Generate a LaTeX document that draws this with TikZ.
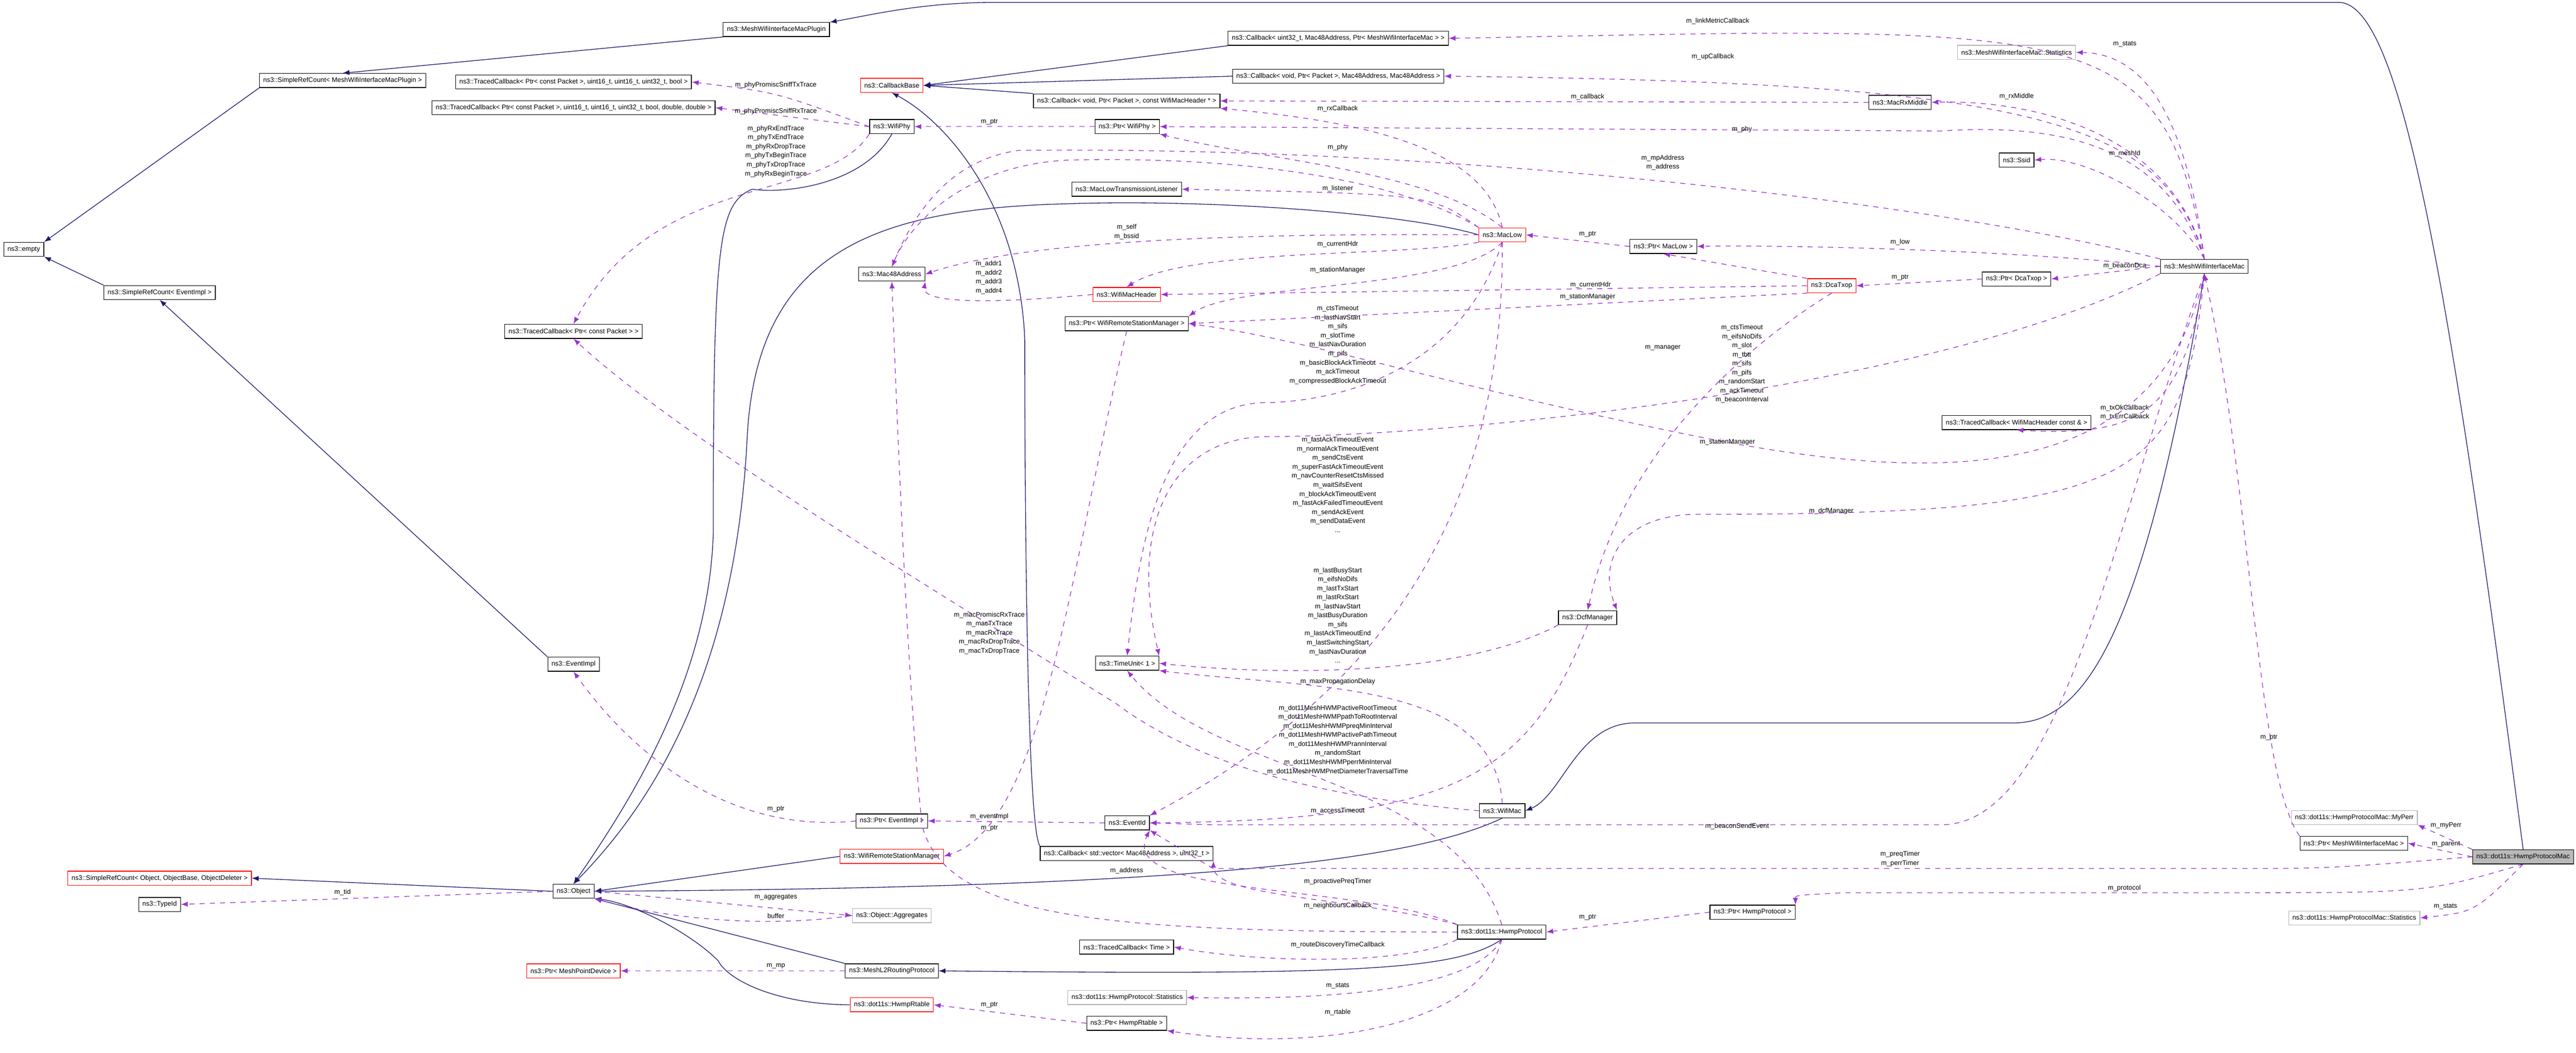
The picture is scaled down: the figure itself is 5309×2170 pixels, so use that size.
\documentclass[tikz,border=0pt]{standalone}
\usepackage{fontspec}
\setmainfont{Liberation Sans}
\usetikzlibrary{arrows}
\definecolor{inhcol}{HTML}{191970}
\definecolor{usecol}{HTML}{9A32CD}
\tikzset{
  cls/.style={draw=black,fill=white,font=\fontsize{3.9}{5.3}\selectfont,inner xsep=2.2pt,inner ysep=1pt,minimum height=0.29cm},
  redcls/.style={cls,draw=red},
  graycls/.style={cls,draw=gray!60},
  curcls/.style={cls,fill=gray!55},
  inh/.style={->,>=latex,draw=inhcol,thin},
  use/.style={->,>=latex,draw=usecol,dashed,thin},
  lbl/.style={font=\fontsize{3.9}{5.3}\selectfont,align=center,inner sep=0.5pt}
}
\begin{document}
\begin{tikzpicture}[x=0.01cm,y=-0.01cm]
  \useasboundingbox (0,0) rectangle (5309,2170);

  % classes
  \node[cls]     (plug)   at (1600,61)   {ns3::MeshWifiInterfaceMacPlugin};
  \node[cls]     (srcplug) at (706,166)  {ns3::SimpleRefCount< MeshWifiInterfaceMacPlugin >};
  \node[cls]     (tcbool) at (1182,169)  {ns3::TracedCallback< Ptr< const Packet >, uint16\_t, uint16\_t, uint32\_t, bool >};
  \node[cls]     (tcdbl)  at (1182,222)  {ns3::TracedCallback< Ptr< const Packet >, uint16\_t, uint16\_t, uint32\_t, bool, double, double >};
  \node[cls]     (empty)  at (49,514)    {ns3::empty};
  \node[cls]     (srcev)  at (329,603)   {ns3::SimpleRefCount< EventImpl >};
  \node[cls]     (tcpkt)  at (1182,683)  {ns3::TracedCallback< Ptr< const Packet > >};
  \node[redcls]  (cbase)  at (1838,176)  {ns3::CallbackBase};
  \node[cls]     (cbmet)  at (2758,79)   {ns3::Callback< uint32\_t, Mac48Address, Ptr< MeshWifiInterfaceMac > >};
  \node[cls]     (cbup)   at (2758,157)  {ns3::Callback< void, Ptr< Packet >, Mac48Address, Mac48Address >};
  \node[cls]     (cbrx)   at (2322,208)  {ns3::Callback< void, Ptr< Packet >, const WifiMacHeader * >};
  \node[cls]     (phy)    at (1838,261)  {ns3::WifiPhy};
  \node[cls]     (pphy)   at (2323,261)  {ns3::Ptr< WifiPhy >};
  \node[cls]     (lst)    at (2322,390)  {ns3::MacLowTransmissionListener};
  \node[redcls]  (low)    at (3096,484)  {ns3::MacLow};
  \node[cls]     (plow)   at (3428,508)  {ns3::Ptr< MacLow >};
  \node[cls]     (mac48)  at (1838,565)  {ns3::Mac48Address};
  \node[redcls]  (hdr)    at (2322,607)  {ns3::WifiMacHeader};
  \node[cls]     (pwrsm)  at (2322,667)  {ns3::Ptr< WifiRemoteStationManager >};
  \node[graycls] (mstat)  at (4156,108)  {ns3::MeshWifiInterfaceMac::Statistics};
  \node[cls]     (rxmid)  at (3916,211)  {ns3::MacRxMiddle};
  \node[cls]     (ssid)   at (4156,330)  {ns3::Ssid};
  \node[cls]     (mwim)   at (4543,549)  {ns3::MeshWifiInterfaceMac};
  \node[cls]     (pdca)   at (4156,575)  {ns3::Ptr< DcaTxop >};
  \node[redcls]  (dca)    at (3775,589)  {ns3::DcaTxop};
  \node[cls]     (tchdr)  at (4156,871)  {ns3::TracedCallback< WifiMacHeader const \& >};
  \node[cls]     (evimpl) at (1182,1369) {ns3::EventImpl};
  \node[redcls]  (srcobj) at (329,1810)  {ns3::SimpleRefCount< Object, ObjectBase, ObjectDeleter >};
  \node[cls]     (tid)    at (329,1864)  {ns3::TypeId};
  \node[cls]     (obj)    at (1182,1837) {ns3::Object};
  \node[redcls]  (pmpd)   at (1182,2001) {ns3::Ptr< MeshPointDevice >};
  \node[cls]     (pevi)   at (1838,1692) {ns3::Ptr< EventImpl >};
  \node[redcls]  (wrsm)   at (1838,1765) {ns3::WifiRemoteStationManager};
  \node[graycls] (aggr)   at (1838,1887) {ns3::Object::Aggregates};
  \node[cls]     (ml2)    at (1838,2001) {ns3::MeshL2RoutingProtocol};
  \node[redcls]  (rtab)   at (1838,2071) {ns3::dot11s::HwmpRtable};
  \node[cls]     (tu)     at (2323,1367) {ns3::TimeUnit< 1 >};
  \node[cls]     (evid)   at (2323,1696) {ns3::EventId};
  \node[cls]     (cbvec)  at (2322,1759) {ns3::Callback< std::vector< Mac48Address >, uint32\_t >};
  \node[cls]     (tctime) at (2322,1952) {ns3::TracedCallback< Time >};
  \node[graycls] (hstat)  at (2323,2056) {ns3::dot11s::HwmpProtocol::Statistics};
  \node[cls]     (prtab)  at (2322,2109) {ns3::Ptr< HwmpRtable >};
  \node[cls]     (dcf)    at (3272,1273) {ns3::DcfManager};
  \node[cls]     (wmac)   at (3096,1671) {ns3::WifiMac};
  \node[cls]     (hwmp)   at (3095,1921) {ns3::dot11s::HwmpProtocol};
  \node[cls]     (phwmp)  at (3612,1880) {ns3::Ptr< HwmpProtocol >};
  \node[graycls] (perr)   at (4852,1685) {ns3::dot11s::HwmpProtocolMac::MyPerr};
  \node[cls]     (pmwim)  at (4851,1738) {ns3::Ptr< MeshWifiInterfaceMac >};
  \node[curcls]  (hpm)    at (5200,1766) {ns3::dot11s::HwmpProtocolMac};
  \node[graycls] (pstat)  at (4852,1892) {ns3::dot11s::HwmpProtocolMac::Statistics};

  % inheritance
  \draw[inh] (hpm.north) .. controls (5050,600) and (4950,5) .. (4820,5) -- (2050,5) .. controls (1900,5) and (1800,30) .. (plug.north east);
  \draw[inh] (plug.south west) -- (srcplug.north);
  \draw[inh] (srcplug.south west) -- (empty.north east);
  \draw[inh] (srcev.north west) -- (empty.south east);
  \draw[inh] (evimpl.north west) -- (srcev.south);
  \draw[inh] (cbmet.south west) -- (cbase.east);
  \draw[inh] (cbup.west) -- (cbase.east);
  \draw[inh] (cbrx.north west) -- (cbase.east);
  \draw[inh] (cbvec.north west) .. controls (2112,1700) and (2112,800) .. (2112,700) .. controls (2100,420) and (1950,250) .. (cbase.south);
  \draw[inh] (phy.south) .. controls (1780,380) and (1620,400) .. (1550,390) .. controls (1480,420) and (1470,500) .. (1470,1100) .. controls (1460,1400) and (1300,1650) .. (obj.north);
  \draw[inh] (low.west) .. controls (2900,440) and (2500,410) .. (2200,420) .. controls (1800,430) and (1560,520) .. (1540,900) .. controls (1520,1300) and (1400,1600) .. (obj.north);
  \draw[inh] (wrsm.west) -- (obj.east);
  \draw[inh] (wmac.south) .. controls (2900,1780) and (2400,1830) .. (obj.east);
  \draw[inh] (ml2.north west) -- (obj.south east);
  \draw[inh] (rtab.west) .. controls (1600,2070) and (1500,2020) .. (1480,1980) .. controls (1420,1920) and (1300,1860) .. (obj.south east);
  \draw[inh] (obj.west) -- (srcobj.east);
  \draw[inh] (mwim.south) .. controls (4420,1300) and (4300,1490) .. (4150,1490) -- (3370,1490) .. controls (3250,1490) and (3220,1640) .. (wmac.east);
  \draw[inh] (hwmp.south) .. controls (3000,2000) and (2800,2010) .. (ml2.east);

  % usage
  \draw[use] (phy.west) .. controls (1600,190) .. (tcbool.east);
  \node[lbl] at (1599,175) {m\_phyPromiscSniffTxTrace};
  \draw[use] (phy.west) -- (tcdbl.east);
  \node[lbl] at (1599,229) {m\_phyPromiscSniffRxTrace};
  \draw[use] (phy.south west) .. controls (1700,420) and (1350,350) .. (tcpkt.north);
  \node[lbl] at (1599,312) {m\_phyRxEndTrace\\m\_phyTxEndTrace\\m\_phyRxDropTrace\\m\_phyTxBeginTrace\\m\_phyTxDropTrace\\m\_phyRxBeginTrace};
  \draw[use] (pphy.west) -- (phy.east);
  \node[lbl] at (2039,251) {m\_ptr};
  \draw[use] (low.north) .. controls (3060,300) and (2800,250) .. (cbrx.south east);
  \node[lbl] at (2757,224) {m\_rxCallback};
  \draw[use] (low.north) .. controls (2950,350) and (2600,330) .. (pphy.south east);
  \draw[use] (low.north west) .. controls (2900,380) and (2600,320) .. (2200,330) .. controls (2000,340) and (1880,450) .. (mac48.north);
  \node[lbl] at (2757,304) {m\_phy};
  \draw[use] (low.north west) .. controls (2950,400) .. (lst.east);
  \node[lbl] at (2757,389) {m\_listener};
  \draw[use] (low.west) .. controls (2500,480) and (2100,500) .. (mac48.east);
  \node[lbl] at (2322,478) {m\_self\\m\_bssid};
  \draw[use] (low.south west) .. controls (2900,530) and (2450,510) .. (hdr.north);
  \node[lbl] at (2757,503) {m\_currentHdr};
  \draw[use] (low.south) .. controls (3000,600) and (2550,580) .. (pwrsm.north east);
  \node[lbl] at (2757,557) {m\_stationManager};
  \draw[use] (low.south) .. controls (3000,800) and (2700,830) .. (2600,830) .. controls (2400,840) and (2350,1100) .. (tu.north);
  \node[lbl] at (2757,711) {m\_ctsTimeout\\m\_lastNavStart\\m\_sifs\\m\_slotTime\\m\_lastNavDuration\\m\_pifs\\m\_basicBlockAckTimeout\\m\_ackTimeout\\m\_compressedBlockAckTimeout};
  \draw[use] (low.south) .. controls (3100,1000) and (2900,1400) .. (evid.north east);
  \node[lbl] at (2757,999) {m\_fastAckTimeoutEvent\\m\_normalAckTimeoutEvent\\m\_sendCtsEvent\\m\_superFastAckTimeoutEvent\\m\_navCounterResetCtsMissed\\m\_waitSifsEvent\\m\_blockAckTimeoutEvent\\m\_fastAckFailedTimeoutEvent\\m\_sendAckEvent\\m\_sendDataEvent\\...};
  \draw[use] (hdr.west) .. controls (2000,630) and (1900,620) .. (mac48.south east);
  \node[lbl] at (2038,572) {m\_addr1\\m\_addr2\\m\_addr3\\m\_addr4};
  \draw[use] (plow.west) -- (low.east);
  \node[lbl] at (3272,483) {m\_ptr};
  \draw[use] (dca.west) -- (hdr.east);
  \node[lbl] at (3278,587) {m\_currentHdr};
  \draw[use] (dca.south west) -- (pwrsm.east);
  \node[lbl] at (3272,612) {m\_stationManager};
  \draw[use] (dca.north west) -- (plow.south);
  \draw[use] (dca.south) .. controls (3650,680) and (3350,900) .. (dcf.north);
  \node[lbl] at (3427,717) {m\_manager};
  \draw[use] (rxmid.west) -- (cbrx.east);
  \node[lbl] at (3272,200) {m\_callback};
  \draw[use] (mwim.north) .. controls (4460,30) and (4300,55) .. (cbmet.east);
  \node[lbl] at (3540,44) {m\_linkMetricCallback};
  \draw[use] (mwim.north) .. controls (4500,200) and (4400,110) .. (mstat.east);
  \node[lbl] at (4379,91) {m\_stats};
  \draw[use] (mwim.north) .. controls (4460,250) and (4200,170) .. (cbup.east);
  \node[lbl] at (3530,117) {m\_upCallback};
  \draw[use] (mwim.north) .. controls (4480,280) and (4200,205) .. (rxmid.east);
  \node[lbl] at (4156,199) {m\_rxMiddle};
  \draw[use] (mwim.north) .. controls (4470,330) and (4300,250) .. (4000,270) -- (pphy.east);
  \node[lbl] at (3590,267) {m\_phy};
  \draw[use] (mwim.north) .. controls (4480,420) and (4300,320) .. (ssid.east);
  \node[lbl] at (4379,317) {m\_meshId};
  \draw[use] (mwim.north west) .. controls (4000,420) and (3000,300) .. (2100,310) .. controls (1950,330) and (1880,450) .. (mac48.north);
  \node[lbl] at (3427,335) {m\_mpAddress\\m\_address};
  \draw[use] (mwim.west) .. controls (4100,510) and (3600,505) .. (plow.east);
  \node[lbl] at (3916,499) {m\_low};
  \draw[use] (mwim.west) -- (pdca.east);
  \node[lbl] at (4379,548) {m\_beaconDca};
  \draw[use] (pdca.west) -- (dca.east);
  \node[lbl] at (3916,572) {m\_ptr};
  \draw[use] (mwim.south west) .. controls (4000,800) and (3000,900) .. (2600,900) .. controls (2400,910) and (2330,1100) .. (tu.north east);
  \node[lbl] at (3590,750) {m\_ctsTimeout\\m\_eifsNoDifs\\m\_slot\\m\_tbtt\\m\_sifs\\m\_pifs\\m\_randomStart\\m\_ackTimeout\\m\_beaconInterval};
  \draw[use] (mwim.south) .. controls (4500,860) and (4400,900) .. (tchdr.south);
  \node[lbl] at (4379,850) {m\_txOkCallback\\m\_txErrCallback};
  \draw[use] (mwim.south) .. controls (4450,1000) and (4000,1000) .. (3500,900) .. controls (3000,800) and (2700,700) .. (pwrsm.east);
  \node[lbl] at (3560,911) {m\_stationManager};
  \draw[use] (mwim.south) .. controls (4500,1000) and (4400,1060) .. (3500,1060) .. controls (3350,1060) and (3290,1150) .. (dcf.north east);
  \node[lbl] at (3774,1053) {m\_dcfManager};
  \draw[use] (mwim.south) .. controls (4350,1100) and (4250,1700) .. (4000,1700) -- (2500,1700) -- (evid.east);
  \node[lbl] at (3580,1703) {m\_beaconSendEvent};
  \draw[use] (pwrsm.south) .. controls (2200,1200) and (2150,1700) .. (wrsm.east);
  \node[lbl] at (2039,1707) {m\_ptr};
  \draw[use] (pevi.west) .. controls (1500,1720) and (1300,1550) .. (evimpl.south);
  \node[lbl] at (1599,1668) {m\_ptr};
  \draw[use] (obj.west) -- (tid.east);
  \node[lbl] at (706,1839) {m\_tid};
  \draw[use] (obj.east) -- (aggr.west);
  \node[lbl] at (1599,1849) {m\_aggregates};
  \draw[use] (aggr.west) .. controls (1600,1910) and (1400,1900) .. (obj.south east);
  \node[lbl] at (1599,1888) {buffer};
  \draw[use] (ml2.west) -- (pmpd.east);
  \node[lbl] at (1599,1991) {m\_mp};
  \draw[use] (wmac.west) .. controls (2800,1650) and (2500,1600) .. (2300,1450) .. controls (1900,1200) and (1400,900) .. (tcpkt.south);
  \node[lbl] at (2039,1305) {m\_macPromiscRxTrace\\m\_macTxTrace\\m\_macRxTrace\\m\_macRxDropTrace\\m\_macTxDropTrace};
  \draw[use] (wmac.north) .. controls (3080,1400) and (2700,1420) .. (tu.south east);
  \node[lbl] at (2757,1405) {m\_maxPropagationDelay};
  \draw[use] (dcf.south west) .. controls (3000,1400) and (2600,1390) .. (tu.east);
  \node[lbl] at (2757,1268) {m\_lastBusyStart\\m\_eifsNoDifs\\m\_lastTxStart\\m\_lastRxStart\\m\_lastNavStart\\m\_lastBusyDuration\\m\_sifs\\m\_lastAckTimeoutEnd\\m\_lastSwitchingStart\\m\_lastNavDuration\\...};
  \draw[use] (dcf.south) .. controls (3150,1600) and (3000,1690) .. (evid.east);
  \node[lbl] at (2757,1671) {m\_accessTimeout};
  \draw[use] (hwmp.north) .. controls (3000,1600) and (2500,1600) .. (tu.south);
  \node[lbl] at (2757,1525) {m\_dot11MeshHWMPactiveRootTimeout\\m\_dot11MeshHWMPpathToRootInterval\\m\_dot11MeshHWMPpreqMinInterval\\m\_dot11MeshHWMPactivePathTimeout\\m\_dot11MeshHWMPrannInterval\\m\_randomStart\\m\_dot11MeshHWMPperrMinInterval\\m\_dot11MeshHWMPnetDiameterTraversalTime};
  \draw[use] (hwmp.west) .. controls (2300,1920) and (1950,1900) .. (1900,1700) .. controls (1870,1400) and (1850,900) .. (mac48.south);
  \node[lbl] at (2322,1795) {m\_address};
  \draw[use] (hwmp.north west) .. controls (2800,1820) and (2300,1850) .. (evid.south east);
  \node[lbl] at (2757,1817) {m\_proactivePreqTimer};
  \draw[use] (hwmp.north west) .. controls (2800,1850) and (2500,1850) .. (cbvec.south east);
  \node[lbl] at (2757,1867) {m\_neighboursCallback};
  \draw[use] (hwmp.south west) .. controls (2900,1990) and (2600,1985) .. (tctime.east);
  \node[lbl] at (2757,1948) {m\_routeDiscoveryTimeCallback};
  \draw[use] (hwmp.south) .. controls (3030,2050) and (2700,2060) .. (hstat.east);
  \node[lbl] at (2757,2032) {m\_stats};
  \draw[use] (hwmp.south) .. controls (3050,2120) and (2700,2170) .. (prtab.south east);
  \node[lbl] at (2757,2087) {m\_rtable};
  \draw[use] (prtab.west) -- (rtab.east);
  \node[lbl] at (2039,2071) {m\_ptr};
  \draw[use] (phwmp.west) -- (hwmp.east);
  \node[lbl] at (3272,1891) {m\_ptr};
  \draw[use] (evid.west) -- (pevi.east);
  \node[lbl] at (2039,1683) {m\_eventImpl};
  \draw[use] (hpm.north west) -- (perr.south east);
  \node[lbl] at (5041,1701) {m\_myPerr};
  \draw[use] (hpm.west) -- (pmwim.east);
  \node[lbl] at (5041,1740) {m\_parent};
  \draw[use] (hpm.west) .. controls (4800,1790) .. (4600,1790) -- (2500,1790) -- (evid.south east);
  \node[lbl] at (3916,1770) {m\_preqTimer\\m\_perrTimer};
  \draw[use] (hpm.south) .. controls (5000,1840) .. (4600,1840) -- (3800,1840) .. controls (3700,1845) .. (phwmp.north east);
  \node[lbl] at (4378,1831) {m\_protocol};
  \draw[use] (hpm.south) .. controls (5100,1880) .. (pstat.east);
  \node[lbl] at (5040,1868) {m\_stats};
  \draw[use] (pmwim.north west) .. controls (4650,1600) and (4640,1000) .. (mwim.south);
  \node[lbl] at (4676,1520) {m\_ptr};
\end{tikzpicture}
\end{document}
